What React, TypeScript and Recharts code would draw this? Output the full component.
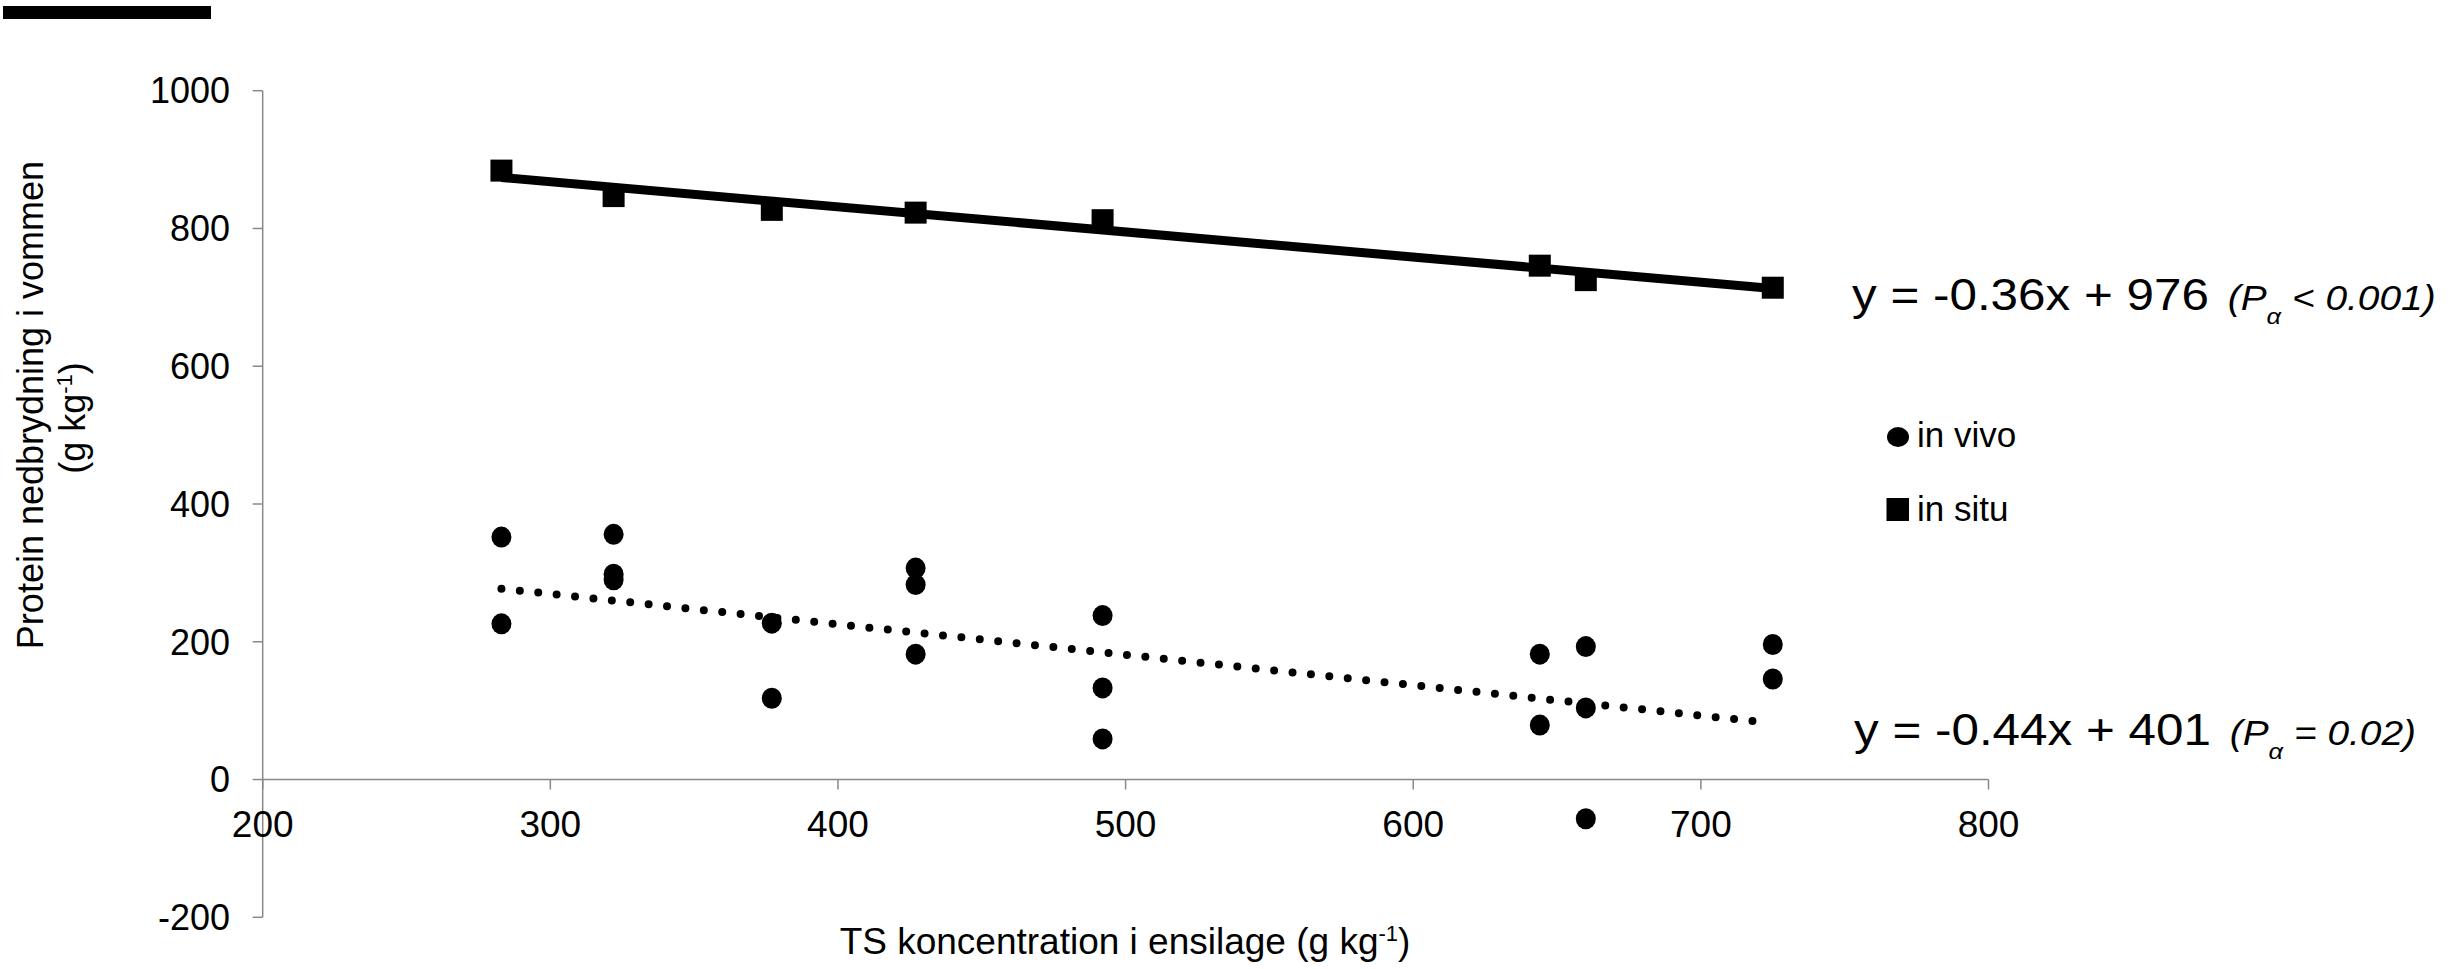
import { ReferenceLine, Scatter, ScatterChart, XAxis, YAxis } from 'recharts'

// axes
const X_TICKS = [200, 300, 400, 500, 600, 700, 800]
const Y_TICKS = [-200, 0, 200, 400, 600, 800, 1000]
const X_DOMAIN = [200, 800]
const Y_DOMAIN = [-200, 1000]

// in vivo (circles)
const VIVO_X = [283, 283, 322, 322, 322, 377, 377, 427, 427, 427, 492, 492, 492, 644, 644, 660, 660, 660, 725, 725]
const VIVO_Y = [352, 226, 356, 298, 290, 227, 118, 307, 283, 182, 238, 133, 59, 182, 79, 193, 104, -57, 196, 146]

// in situ (squares)
const SITU_X = [283, 322, 377, 427, 492, 644, 660, 725]
const SITU_Y = [884, 847, 827, 823, 812, 746, 725, 714]

// trend line end points
const SITU_TREND_X = [283, 725]
const SITU_TREND_Y = [874, 713]
const VIVO_TREND_X = [283, 720]
const VIVO_TREND_Y = [277, 84]

const zip = (xs: number[], ys: number[]) => xs.map((x, i) => ({ x, y: ys[i] }))

const inVivo = zip(VIVO_X, VIVO_Y)
const inSitu = zip(SITU_X, SITU_Y)
const situTrend = zip(SITU_TREND_X, SITU_TREND_Y)
const vivoTrend = zip(VIVO_TREND_X, VIVO_TREND_Y)

const FONT = '"Liberation Sans", Arial, sans-serif'
const AXIS = '#898989'

const W = 2448
const H = 969
const MARGIN = { top: 90.7, right: 459.5, bottom: 0, left: 0 }
const Y_AXIS_W = 262.7
const X_AXIS_H = 51.7
const PLOT_H = H - MARGIN.top - MARGIN.bottom - X_AXIS_H
// x axis crosses at y = 0, not at the bottom of the plot
const ZERO_SHIFT = (PLOT_H * (0 - Y_DOMAIN[0])) / (Y_DOMAIN[1] - Y_DOMAIN[0])

function XTick(props: any) {
  const { x, y, payload } = props
  const zeroY = y - ZERO_SHIFT
  return (
    <g>
      <line x1={x} x2={x} y1={zeroY} y2={zeroY + 10} stroke={AXIS} strokeWidth={1.5} />
      <text x={x} y={zeroY + 57} textAnchor="middle" fontSize={37} fontFamily={FONT} fill="#000">
        {payload.value}
      </text>
    </g>
  )
}

const Dot = (p: any) => <ellipse cx={p.cx} cy={p.cy} rx={10} ry={10.5} fill="#000" />
const Square = (p: any) => <rect x={p.cx - 11} y={p.cy - 11} width={22} height={22} fill="#000" />
const NoMark = () => <g />

// the equations in the original are drawn slightly wide
function Equation({ x, y, main, rel }: { x: number; y: number; main: string; rel: string }) {
  return (
    <g transform={`translate(${x},${y}) scale(1.11,1)`}>
      <text x={0} y={0} fontSize={44.5}>
        {main}
        <tspan fontStyle="italic" fontSize={35} dx={17}>(P</tspan>
        <tspan fontStyle="italic" fontSize={23} dy={14}>α</tspan>
        <tspan fontStyle="italic" fontSize={35} dy={-14}>{' ' + rel + ')'}</tspan>
      </text>
    </g>
  )
}

export default function App() {
  return (
    <div style={{ position: 'absolute', left: 0, top: 0, width: W, height: H, background: '#fff' }}>
      <ScatterChart width={W} height={H} margin={MARGIN}>
        <XAxis
          type="number"
          dataKey="x"
          domain={X_DOMAIN}
          ticks={X_TICKS}
          interval={0}
          height={X_AXIS_H}
          axisLine={false}
          tickLine={false}
          tickSize={0}
          tickMargin={0}
          tick={(p: any) => <XTick {...p} />}
        />
        <YAxis
          type="number"
          dataKey="y"
          domain={Y_DOMAIN}
          ticks={Y_TICKS}
          interval={0}
          width={Y_AXIS_W}
          axisLine={{ stroke: AXIS, strokeWidth: 1.5 }}
          tickLine={{ stroke: AXIS, strokeWidth: 1.5 }}
          tickSize={10}
          tickMargin={22.7}
          tick={{ fill: '#000', fontSize: 36, fontFamily: FONT }}
        />
        <ReferenceLine y={0} stroke={AXIS} strokeWidth={1.5} />
        <Scatter name="in vivo" data={inVivo} shape={Dot} isAnimationActive={false} />
        <Scatter name="in situ" data={inSitu} shape={Square} isAnimationActive={false} />
        <Scatter
          data={situTrend}
          shape={NoMark}
          line={{ stroke: '#000', strokeWidth: 9 }}
          isAnimationActive={false}
        />
        <Scatter
          data={vivoTrend}
          shape={NoMark}
          line={{ stroke: '#000', strokeWidth: 8, strokeDasharray: '0 18.5', strokeLinecap: 'round' }}
          isAnimationActive={false}
        />
      </ScatterChart>

      <svg
        width={W}
        height={H}
        style={{ position: 'absolute', left: 0, top: 0, pointerEvents: 'none', whiteSpace: 'pre' }}
        fontFamily={FONT}
      >
        <rect x={3} y={6} width={208} height={13} fill="#000" />

        <text transform="translate(43,405) rotate(-90)" textAnchor="middle" fontSize={36}>
          Protein nedbrydning i vommen
        </text>
        <text transform="translate(85,418) rotate(-90)" textAnchor="middle" fontSize={36}>
          (g kg
          <tspan fontSize={22} dy={-13}>-1</tspan>
          <tspan dy={13}>)</tspan>
        </text>

        <text x={1125} y={954} textAnchor="middle" fontSize={37}>
          TS koncentration i ensilage (g kg
          <tspan fontSize={22} dy={-13}>-1</tspan>
          <tspan dy={13}>)</tspan>
        </text>

        <Equation x={1852} y={310} main="y = -0.36x + 976" rel="< 0.001" />
        <Equation x={1854} y={745} main="y = -0.44x + 401" rel="= 0.02" />

        <ellipse cx={1898} cy={437} rx={11} ry={10} fill="#000" />
        <text x={1917} y={447} fontSize={35}>in vivo</text>
        <rect x={1886.5} y={498} width={22.5} height={23} fill="#000" />
        <text x={1917} y={521} fontSize={35}>in situ</text>
      </svg>
    </div>
  )
}
